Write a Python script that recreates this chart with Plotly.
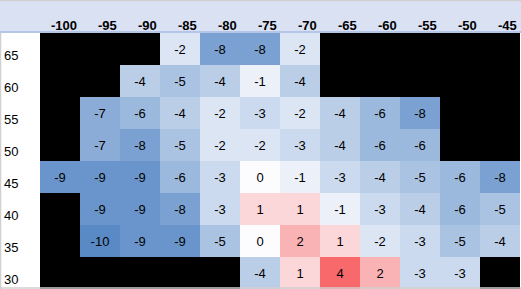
import plotly.graph_objects as go

lons = [-100, -95, -90, -85, -80, -75, -70, -65, -60, -55, -50, -45]
lats = [65, 60, 55, 50, 45, 40, 35, 30]
N = None
values = [
    [N, N, N, -2, -8, -8, -2, N, N, N, N, N],
    [N, N, -4, -5, -4, -1, -4, N, N, N, N, N],
    [N, -7, -6, -4, -2, -3, -2, -4, -6, -8, N, N],
    [N, -7, -8, -5, -2, -2, -3, -4, -6, -6, N, N],
    [-9, -9, -9, -6, -3, 0, -1, -3, -4, -5, -6, -8],
    [N, -9, -9, -8, -3, 1, 1, -1, -3, -4, -6, -5],
    [N, -10, -9, -9, -5, 0, 2, 1, -2, -3, -5, -4],
    [N, N, N, N, N, -4, 1, 4, 2, -3, -3, N],
]
texts = [["" if v is None else str(v) for v in row] for row in values]

W, H = 521, 289
L, T = 40, 33
PW, PH = W - L - 1, H - T

zmin, zmax = -10, 4
mid = (0 - zmin) / (zmax - zmin)
cscale = [[0, "#5A8AC6"], [mid, "#FCFCFF"], [1, "#F8696B"]]

fig = go.Figure(go.Heatmap(
    x=lons, y=lats, z=values, text=texts, texttemplate="%{text}",
    textfont=dict(family="Liberation Sans", size=13, color="black"),
    colorscale=cscale, zmin=zmin, zmax=zmax, showscale=False,
    xgap=0, ygap=0, hoverinfo="skip",
))

shapes = [
    dict(type="rect", xref="paper", yref="paper", x0=-L / PW, x1=1 + 1 / PW,
         y0=1, y1=1 + T / PH, fillcolor="#DAE1F3", line_width=0, layer="below"),
    dict(type="line", xref="paper", yref="paper", x0=-L / PW, x1=1 + 1 / PW,
         y0=1 + 1 / PH, y1=1 + 1 / PH, line=dict(color="#8EA9DB", width=1.2)),
    dict(type="line", xref="paper", yref="paper", x0=-L / PW + 0.5 / PW, x1=-L / PW + 0.5 / PW,
         y0=0, y1=1, line=dict(color="#D0D0D0", width=1.5)),
    dict(type="line", xref="paper", yref="paper", x0=-L / PW, x1=1 + 1 / PW,
         y0=1 / PH, y1=1 / PH, line=dict(color="#D0D0D0", width=1.5)),
    dict(type="line", xref="paper", yref="paper", x0=-L / PW, x1=1 + 1 / PW,
         y0=1 + (T - 0.5) / PH, y1=1 + (T - 0.5) / PH, line=dict(color="#D0D0D0", width=1.5)),
]

annotations = []
for lon in lons:
    annotations.append(dict(
        x=lon + 2.5, xref="x", y=1 + (T - 25.5) / PH, yref="paper",
        text=f"<b>{lon}</b>", showarrow=False, xanchor="right", yanchor="middle",
        xshift=-1, font=dict(family="Liberation Sans", size=13, color="black"),
    ))
for lat in lats:
    annotations.append(dict(
        x=-L / PW + 2 / PW, xref="paper", y=lat - 2.5, yref="y",
        text=str(lat), showarrow=False, xanchor="left", yanchor="bottom",
        yshift=0, font=dict(family="Liberation Sans", size=13, color="black"),
    ))

fig.update_layout(
    width=W, height=H, margin=dict(l=L, r=1, t=T, b=0),
    paper_bgcolor="white", plot_bgcolor="black",
    xaxis=dict(range=[lons[0] - 2.5, lons[-1] + 2.5], showticklabels=False,
               showgrid=False, zeroline=False, ticks=""),
    yaxis=dict(range=[lats[-1] - 2.5, lats[0] + 2.5], showticklabels=False,
               showgrid=False, zeroline=False, ticks=""),
    shapes=shapes, annotations=annotations, showlegend=False,
)

fig.write_html("out.html")
